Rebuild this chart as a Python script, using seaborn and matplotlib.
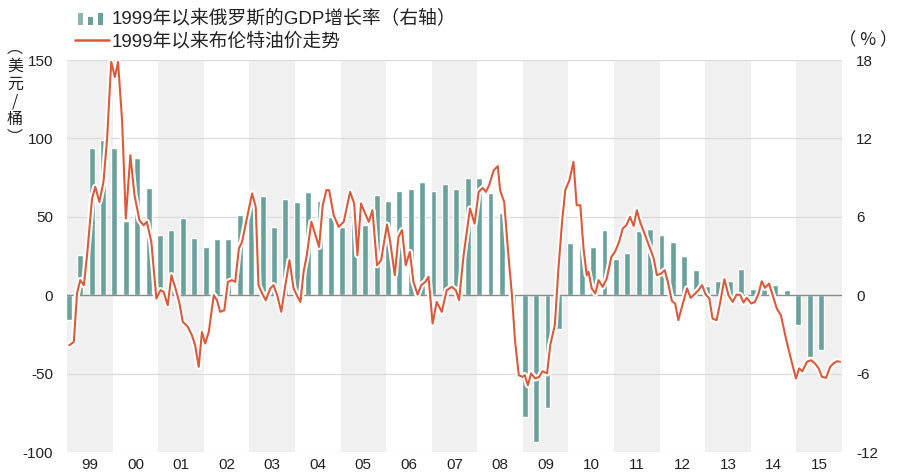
import numpy as np
import pandas as pd
import matplotlib
matplotlib.use("Agg")
import matplotlib.pyplot as plt
import matplotlib.patheffects as pe
from matplotlib.patches import Rectangle
from matplotlib.lines import Line2D
import seaborn as sns

# ---------------- data ----------------
years = list(range(1999, 2016))
year_labels = ["99", "00", "01", "02", "03", "04", "05", "06", "07", "08",
               "09", "10", "11", "12", "13", "14", "15"]

gdp_year = [y for y in range(1999, 2015) for _ in range(4)] + [2015, 2015, 2015]
gdp_q = [1, 2, 3, 4] * 16 + [1, 2, 3]
gdp_growth = [
    -1.9, 3.1, 11.3, 11.9,
    11.3, 5.7, 10.5, 8.2,
    4.6, 5.0, 5.9, 4.4,
    3.7, 4.3, 4.3, 6.1,
    6.8, 7.6, 5.2, 7.4,
    7.1, 7.9, 7.2, 6.0,
    5.2, 5.6, 5.4, 7.7,
    7.2, 8.0, 8.1, 8.7,
    8.0, 8.5, 8.1, 9.0,
    9.0, 7.8, 6.3, -1.3,
    -9.3, -11.2, -8.6, -2.6,
    4.0, 5.0, 3.7, 5.0,
    2.8, 3.2, 4.9, 5.1,
    4.6, 4.1, 3.0, 1.9,
    0.7, 1.1, 1.1, 2.0,
    0.5, 0.8, 0.8, 0.4,
    -2.3, -4.7, -4.2,
]

oil_dates = [
    1999.05, 1999.15, 1999.22, 1999.29, 1999.37, 1999.44, 1999.55, 1999.62, 1999.71, 1999.80,
    1999.88, 1999.97, 2000.05, 2000.12, 2000.21, 2000.29, 2000.39, 2000.48, 2000.59, 2000.68,
    2000.75, 2000.85, 2000.96, 2001.05, 2001.12, 2001.21, 2001.29, 2001.38, 2001.46, 2001.54,
    2001.65, 2001.74, 2001.81, 2001.89, 2001.96, 2002.03, 2002.11, 2002.22, 2002.29, 2002.36,
    2002.45, 2002.53, 2002.62, 2002.69, 2002.77, 2002.84, 2002.93, 2003.06, 2003.14, 2003.20,
    2003.28, 2003.36, 2003.46, 2003.53, 2003.61, 2003.70, 2003.79, 2003.88, 2003.97, 2004.04,
    2004.12, 2004.19, 2004.26, 2004.36, 2004.45, 2004.53, 2004.61, 2004.69, 2004.75, 2004.85,
    2004.96, 2005.07, 2005.21, 2005.30, 2005.37, 2005.45, 2005.54, 2005.62, 2005.70, 2005.80,
    2005.89, 2006.02, 2006.09, 2006.19, 2006.27, 2006.35, 2006.43, 2006.52, 2006.60, 2006.69,
    2006.77, 2006.86, 2006.93, 2007.02, 2007.11, 2007.22, 2007.33, 2007.44, 2007.53, 2007.60,
    2007.70, 2007.84, 2007.94, 2008.03, 2008.12, 2008.19, 2008.26, 2008.36, 2008.45, 2008.50,
    2008.59, 2008.67, 2008.76, 2008.83, 2008.91, 2008.99, 2009.04, 2009.11, 2009.18, 2009.27,
    2009.36, 2009.43, 2009.53, 2009.60, 2009.70, 2009.78, 2009.86, 2009.93, 2010.02, 2010.11,
    2010.18, 2010.26, 2010.33, 2010.40, 2010.44, 2010.51, 2010.59, 2010.66, 2010.75, 2010.84,
    2010.94, 2011.02, 2011.11, 2011.19, 2011.27, 2011.35, 2011.43, 2011.50, 2011.57, 2011.68,
    2011.79, 2011.87, 2011.94, 2012.03, 2012.11, 2012.18, 2012.27, 2012.34, 2012.41, 2012.51,
    2012.60, 2012.68, 2012.78, 2012.85, 2012.93, 2013.01, 2013.09, 2013.16, 2013.25, 2013.33,
    2013.42, 2013.51, 2013.60, 2013.69, 2013.77, 2013.84, 2013.91, 2014.01, 2014.09, 2014.17,
    2014.24, 2014.31, 2014.40, 2014.48, 2014.57, 2014.66, 2014.77, 2014.86, 2014.99, 2015.06,
    2015.13, 2015.23, 2015.32, 2015.41, 2015.49, 2015.56, 2015.65, 2015.74, 2015.81, 2015.89,
    2015.96,
]
oil_values = [
    -31.9, -29.8, 1.1, 9.6, 6.4, 25.5, 61.7, 69.1, 59.5, 72.3,
    99.9, 148.8, 139.2, 148.8, 110.5, 48.9, 89.3, 63.8, 47.8, 44.6,
    46.8, 34.0, -2.1, 3.2, 2.1, -6.4, 12.8, 4.3, -4.3, -17.0,
    -20.2, -25.5, -31.9, -45.7, -23.4, -30.8, -23.4, 0.0, -3.2, -10.6,
    -9.6, 8.5, 9.6, 8.5, 29.8, 34.0, 46.8, 64.9, 56.3, 6.4,
    1.1, -3.2, 4.3, 6.4, 0.0, -10.6, 6.4, 22.3, 4.3, 0.0,
    -4.3, 14.9, 25.5, 46.8, 38.3, 30.8, 57.4, 67.0, 67.0, 51.0,
    43.6, 46.8, 65.9, 58.5, 25.5, 58.5, 52.1, 46.8, 54.2, 19.1,
    22.3, 45.1, 34.0, 12.8, 37.2, 41.5, 19.1, 27.6, 8.5, 0.4,
    6.4, 8.5, 11.7, -18.1, -4.3, -10.6, 3.2, 5.3, 3.2, -3.2,
    25.5, 55.3, 45.7, 65.9, 68.4, 65.9, 70.2, 79.7, 82.3, 67.0,
    59.5, 29.8, 0.0, -29.8, -51.0, -52.1, -51.0, -57.4, -49.9, -53.1,
    -52.1, -48.5, -49.9, -31.9, -19.1, 17.0, 46.8, 67.0, 73.3, 85.0,
    57.4, 57.4, 29.8, 12.8, 14.9, 4.3, 1.1, 9.6, 5.3, 10.6,
    24.4, 27.6, 34.0, 42.5, 44.6, 49.9, 44.2, 54.2, 46.8, 38.3,
    29.8, 23.4, 12.8, 13.8, 15.9, 8.5, -3.8, -5.3, -15.9, -5.3,
    4.3, -1.7, 1.1, 3.2, 6.4, 0.4, -2.1, -14.9, -15.9, -4.3,
    10.2, 0.0, -4.3, 0.4, 0.0, -4.7, -1.7, -5.3, -4.3, 1.1,
    8.9, 4.7, 7.4, 0.0, -8.5, -12.8, -27.6, -38.3, -53.1, -46.7,
    -48.5, -42.5, -41.5, -43.6, -46.7, -52.1, -52.7, -45.7, -43.6, -42.1,
    -42.5,
]

legend_bar = "1999年以来俄罗斯的GDP增长率（右轴）"
legend_line = "1999年以来布伦特油价走势"
left_unit = "︵\n美\n元\n/\n桶\n︶"
right_unit = "（ % ）"

left_ticks = [-100, -50, 0, 50, 100, 150]
right_ticks = [-12, -6, 0, 6, 12, 18]

# ---------------- style ----------------
TEAL = "#6aa29b"
RED = "#dc5a3c"
BAND = "#f0f0f0"
GRID = "#dadada"
TXT = "#222222"

sns.set_theme(style="white")
plt.rcParams["font.family"] = ["Liberation Sans", "Noto Sans CJK SC", "DejaVu Sans"]

W, H = 900, 474
fig = plt.figure(figsize=(9, 4.74), dpi=100)
L, R, T, B = 67, 842, 60, 452
ax = fig.add_axes([L / W, 1 - B / H, (R - L) / W, (B - T) / H])
ax2 = ax.twinx()

# layers: ax2 (bands, grid, bars) below, ax (oil line) above
ax.set_zorder(2)
ax2.set_zorder(1)
ax.patch.set_visible(False)

for i, y in enumerate(years):
    if i % 2 == 0:
        ax2.axvspan(y, y + 1, color=BAND, lw=0, zorder=0)

for t in right_ticks:
    if t != 0:
        ax2.axhline(t, color=GRID, lw=0.9, zorder=0.5)

bar_df = pd.DataFrame({"year": gdp_year, "q": gdp_q, "growth": gdp_growth})
bar_df["pos"] = bar_df["year"] + (bar_df["q"] - 1) * 0.25 + 0.04
sns.barplot(data=bar_df, x="pos", y="growth", native_scale=True, width=0.52,
            color=TEAL, saturation=1, errorbar=None, ax=ax2, zorder=2)
ax2.axhline(0, color="#8a8a8a", lw=1.0, zorder=3)

oil_df = pd.DataFrame({"date": oil_dates, "oil": oil_values})
sns.lineplot(data=oil_df, x="date", y="oil", sort=False, color=RED, lw=1.5, ax=ax,
             path_effects=[pe.Stroke(linewidth=4.5, foreground="white"), pe.Normal()])

ax.set_xlim(1999, 2016)
ax2.set_xlim(1999, 2016)
ax.set_ylim(-100, 150)
ax2.set_ylim(-12, 18)
ax.set_yticks(left_ticks)
ax.set_yticklabels([str(t) for t in left_ticks])
ax2.set_yticks(right_ticks)
ax2.set_yticklabels([str(t) for t in right_ticks])
ax.set_xticks([y + 0.5 for y in years])
ax.set_xticklabels(year_labels)
ax.set_xlabel("")
ax.set_ylabel("")
ax2.set_xlabel("")
ax2.set_ylabel("")

for a in (ax, ax2):
    for s in a.spines.values():
        s.set_visible(False)
    a.tick_params(axis="both", length=0, labelsize=11, colors=TXT)
ax.tick_params(axis="y", pad=10)
ax2.tick_params(axis="y", pad=10)
ax.tick_params(axis="x", pad=4)
ax2.tick_params(axis="x", labelbottom=False)
ax.grid(False)
ax2.grid(False)

# ---------------- legend ----------------
fx = lambda px: px / W
fy = lambda py: 1 - py / H
for x0, top, col in [(78, 13, "#8fb5b0"), (88, 17, TEAL), (98, 13, TEAL)]:
    fig.add_artist(Rectangle((fx(x0), fy(25)), 5 / W, (25 - top) / H,
                             transform=fig.transFigure, color=col, lw=0))
fig.text(fx(112), fy(19), legend_bar, fontsize=13.5, va="center", ha="left", color=TXT)
fig.add_artist(Line2D([fx(75), fx(109)], [fy(40), fy(40)], transform=fig.transFigure,
                      color=RED, lw=1.8))
fig.text(fx(112), fy(41), legend_line, fontsize=13.5, va="center", ha="left", color=TXT)

# axis units
fig.text(fx(15), fy(93), left_unit, fontsize=11.5, ha="center", va="center",
         linespacing=1.05, color=TXT, family=["Noto Sans CJK SC", "DejaVu Sans"])
fig.text(fx(868), fy(40), right_unit, fontsize=12.5, ha="center", va="center",
         color=TXT, family=["Noto Sans CJK SC", "DejaVu Sans"])

fig.savefig("out.png", dpi=100)
